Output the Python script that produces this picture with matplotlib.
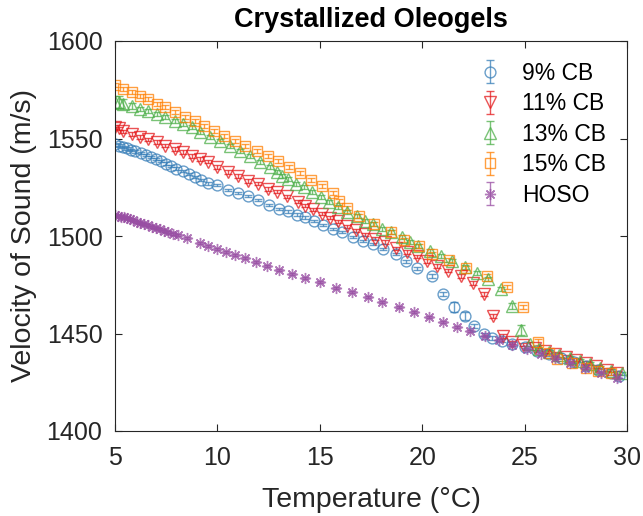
import numpy as np
import matplotlib
matplotlib.use('Agg')
import matplotlib.pyplot as plt

plt.rcParams['font.family'] = ['Liberation Sans', 'DejaVu Sans']

# 9% CB
t_9 = [5.0, 5.2, 5.4, 5.6, 5.8, 6.0, 6.25, 6.5, 6.75, 7.0, 7.25, 7.5, 7.75, 8.0, 8.3, 8.6,
       8.9, 9.2, 9.55, 10.0, 10.5, 11.0, 11.5, 12.0, 12.5, 13.0, 13.45, 13.9, 14.3, 14.7,
       15.15, 15.65, 16.1, 16.6, 17.1, 17.6, 18.1, 18.7, 19.2, 19.75, 20.5, 21.0, 21.55,
       22.1, 22.55, 23.0, 23.4, 23.9, 24.4, 25.0, 25.6, 26.2, 26.8, 27.4, 28.0, 28.6,
       29.2, 29.6]
v_9 = [1547.0, 1546.3, 1545.6, 1544.9, 1544.2, 1543.4, 1542.5, 1541.5, 1540.5, 1539.4,
       1538.3, 1537.1, 1535.9, 1534.6, 1533.2, 1531.7, 1530.2, 1528.7, 1527.0, 1526.0,
       1523.5, 1522.0, 1520.5, 1518.5, 1516.0, 1514.0, 1512.6, 1511.0, 1509.5, 1507.7,
       1505.6, 1503.6, 1502.0, 1499.6, 1497.4, 1495.8, 1493.4, 1490.8, 1487.0, 1483.5,
       1479.5, 1470.3, 1463.6, 1459.0, 1453.8, 1449.7, 1447.7, 1446.2, 1444.6, 1443.0,
       1441.0, 1439.3, 1437.5, 1435.5, 1433.5, 1431.5, 1429.5, 1428.0]
e_9 = [0.8, 0.7, 0.7, 0.6, 0.6, 0.6, 0.6, 0.6, 0.6, 0.6, 0.6, 0.6, 0.6, 0.6, 0.6, 0.6,
       0.6, 0.6, 0.6, 0.6, 0.6, 0.6, 0.6, 0.6, 0.6, 0.6, 0.6, 0.6, 0.6, 0.6,
       0.6, 0.6, 0.6, 0.6, 0.6, 0.6, 0.6, 0.6, 0.8, 0.8, 1.0, 1.0, 2.5,
       2.0, 1.0, 0.8, 0.8, 0.8, 0.8, 0.6, 0.6, 0.6, 0.6, 0.6, 0.6, 0.6,
       0.6, 0.6]

# 11% CB
t_11 = [5.0, 5.2, 5.4, 5.85, 6.2, 6.6, 7.05, 7.45, 7.95, 8.3, 8.75, 9.15, 9.55, 10.0, 10.5,
        11.0, 11.5, 12.0, 12.45, 12.9, 13.4, 13.95, 14.3, 14.65, 15.1, 15.5, 15.9, 16.35,
        16.75, 17.2, 17.7, 18.2, 18.7, 19.25, 19.75, 20.25, 20.7, 21.25, 21.9, 22.5, 23.0,
        23.45, 23.95, 24.4, 24.9, 25.5, 26.0, 26.5, 27.0, 27.5, 28.0, 28.5, 29.0, 29.5]
v_11 = [1556.0, 1555.2, 1553.8, 1552.3, 1550.8, 1549.7, 1548.2, 1546.2, 1544.6, 1543.1,
        1541.0, 1539.5, 1538.0, 1535.4, 1532.8, 1530.8, 1528.2, 1526.7, 1524.1, 1522.6,
        1520.3, 1517.6, 1515.6, 1513.6, 1511.4, 1509.4, 1507.6, 1505.0, 1503.0, 1500.8,
        1498.5, 1496.9, 1493.6, 1491.8, 1489.7, 1487.2, 1484.6, 1482.1, 1479.5, 1475.9,
        1470.3, 1459.0, 1448.7, 1445.6, 1444.3, 1442.5, 1441.0, 1439.5, 1438.0, 1436.5,
        1435.0, 1433.3, 1431.5, 1430.0]
e_11 = [1.0, 0.9, 0.8, 0.8, 0.8, 0.8, 0.8, 0.8, 0.8, 0.8, 0.8, 0.8, 0.8, 0.8, 0.8,
        0.8, 0.8, 0.8, 0.8, 0.8, 0.8, 0.8, 0.8, 0.8, 0.8, 0.8, 0.8, 0.8,
        0.8, 0.8, 0.8, 0.8, 0.8, 0.8, 0.8, 0.8, 0.8, 0.8, 0.8, 0.8, 1.0,
        1.2, 1.0, 0.8, 0.8, 0.8, 0.8, 0.8, 0.8, 0.8, 0.8, 0.8, 0.8, 0.8]

# 13% CB
t_13 = [5.0, 5.2, 5.4, 5.85, 6.2, 6.6, 7.05, 7.45, 7.95, 8.3, 8.75, 9.15, 9.65, 10.15,
        10.6, 11.1, 11.6, 12.1, 12.55, 12.9, 13.15, 13.45, 13.85, 14.25, 14.6, 15.05, 15.45,
        15.9, 16.35, 16.8, 17.2, 17.6, 18.05, 18.5, 19.0, 19.4, 19.8, 20.4, 20.9, 21.45,
        22.1, 22.7, 23.2, 23.85, 24.4, 24.8, 25.25, 25.7, 26.2, 26.7, 27.2, 27.7, 28.2,
        28.7, 29.2, 29.75]
v_13 = [1568.5, 1568.8, 1567.8, 1566.7, 1565.1, 1564.1, 1562.6, 1561.0, 1559.0, 1557.4,
        1555.9, 1553.3, 1550.8, 1548.7, 1546.2, 1543.6, 1541.0, 1538.0, 1535.4, 1533.0,
        1530.8, 1529.2, 1526.7, 1525.1, 1522.6, 1520.0, 1517.4, 1514.9, 1512.3, 1510.3,
        1507.7, 1506.0, 1503.6, 1502.1, 1499.5, 1497.0, 1494.9, 1492.3, 1489.7, 1487.2,
        1484.1, 1481.0, 1477.9, 1472.8, 1464.1, 1451.8, 1444.6, 1442.0, 1440.5, 1439.0,
        1437.5, 1436.0, 1434.5, 1432.5, 1431.0, 1429.5]
e_13 = [3.5, 3.0, 2.5, 1.5, 1.2, 1.0, 1.0, 1.0, 1.0, 1.0, 1.0, 1.0, 1.0, 1.0,
        1.0, 1.0, 1.0, 1.0, 1.0, 1.0, 1.0, 1.0, 1.0, 1.0, 1.0, 1.0, 1.0,
        1.0, 1.0, 1.0, 1.0, 1.0, 1.0, 1.0, 1.0, 1.0, 1.0, 1.0, 1.0, 1.0,
        1.0, 1.0, 1.0, 1.0, 1.5, 2.5, 1.0, 0.8, 0.8, 0.8, 0.8, 0.8, 0.8,
        0.8, 0.8, 0.8]

# 15% CB
t_15 = [5.0, 5.4, 5.85, 6.2, 6.6, 7.05, 7.45, 7.95, 8.4, 8.9, 9.35, 9.85, 10.3, 10.85,
        11.35, 11.95, 12.45, 12.95, 13.5, 14.05, 14.55, 15.1, 15.65, 15.95, 16.35, 16.9,
        17.65, 18.5, 19.1, 19.85, 20.5, 21.3, 22.15, 23.15, 24.15, 24.9, 25.65, 26.2,
        26.6, 27.3, 28.0, 28.6, 29.2]
v_15 = [1577.5, 1575.4, 1573.8, 1571.8, 1570.3, 1567.7, 1566.2, 1563.6, 1561.0, 1559.0,
        1556.4, 1553.8, 1551.3, 1548.7, 1546.2, 1543.6, 1541.0, 1538.5, 1535.4, 1532.3,
        1528.7, 1525.6, 1522.1, 1517.9, 1514.4, 1510.3, 1506.2, 1502.1, 1497.9, 1494.9,
        1490.8, 1487.7, 1483.6, 1479.5, 1473.8, 1463.6, 1445.6, 1440.0, 1437.0, 1435.0,
        1432.5, 1431.0, 1429.5]
e_15 = [1.0, 0.9, 0.9, 0.9, 0.9, 0.9, 0.9, 0.9, 0.9, 0.9, 0.9, 0.9, 0.9, 0.9,
        0.9, 0.9, 0.9, 0.9, 0.9, 0.9, 0.9, 0.9, 0.9, 0.9, 0.9, 0.9,
        0.9, 0.9, 0.9, 0.9, 0.9, 0.9, 0.9, 0.9, 1.0, 1.0, 1.5, 0.9,
        0.9, 0.9, 0.9, 0.9, 0.9]

# HOSO
t_hoso = [5.0, 5.15, 5.3, 5.45, 5.6, 5.75, 5.9, 6.05, 6.2, 6.4, 6.6, 6.8, 7.0, 7.2, 7.4,
          7.6, 7.85, 8.1, 8.5, 9.15, 9.55, 10.0, 10.4, 10.85, 11.35, 11.9, 12.4, 13.0,
          13.65, 14.3, 15.0, 15.8, 16.55, 17.35, 18.05, 18.85, 19.6, 20.35, 21.0, 21.7,
          22.35, 23.05, 23.75, 24.4, 25.1, 25.8, 26.5, 27.2, 27.95, 28.75, 29.5]
v_hoso = [1511.0, 1510.5, 1510.0, 1509.5, 1509.0, 1508.5, 1508.0, 1507.4, 1506.9, 1506.2,
          1505.5, 1504.8, 1504.1, 1503.4, 1502.7, 1502.0, 1501.2, 1500.3, 1499.0, 1496.4,
          1494.9, 1493.3, 1491.8, 1490.3, 1488.7, 1486.7, 1484.6, 1482.6, 1480.5, 1478.5,
          1476.4, 1473.3, 1471.3, 1468.7, 1466.2, 1463.6, 1461.0, 1458.5, 1455.9, 1453.3,
          1451.3, 1448.7, 1446.7, 1444.1, 1441.8, 1439.6, 1437.5, 1435.0, 1432.5, 1430.0,
          1427.0]
e_hoso = [0.5] * len(t_hoso)

series = [
    (t_9, v_9, e_9, '9% CB', '#377eb8', 'o', 7.8),
    (t_11, v_11, e_11, '11% CB', '#e41a1c', 'v', 8.3),
    (t_13, v_13, e_13, '13% CB', '#4daf4a', '^', 8.3),
    (t_15, v_15, e_15, '15% CB', '#ff7f00', 's', 6.8),
    (t_hoso, v_hoso, e_hoso, 'HOSO', '#984ea3', (8, 2, 0), 8),
]

fig = plt.figure(figsize=(6.43, 5.16), dpi=100)
ax = fig.add_axes([115 / 643, 1 - 431 / 516, 512 / 643, 390 / 516])

for t, v, e, label, color, marker, ms in series:
    ax.errorbar(t, v, yerr=e, linestyle='none', marker=marker, ms=ms, mfc='none',
                mec=color, mew=1.0, ecolor=color, elinewidth=1.0, capsize=3,
                capthick=1.0, alpha=0.75, label=label)

ax.set_xlim(5, 30)
ax.set_ylim(1400, 1600)
ax.set_xticks([5, 10, 15, 20, 25, 30])
ax.set_yticks([1400, 1450, 1500, 1550, 1600])
ax.tick_params(direction='in', top=True, right=True, labelsize=18, length=5,
               width=0.8, colors='#262626')
ax.tick_params(axis='x', pad=11)
ax.tick_params(axis='y', pad=9)
for sp in ax.spines.values():
    sp.set_color('#262626')
    sp.set_linewidth(0.8)

ax.set_xlabel('Temperature (°C)', fontsize=20.5, color='#262626', labelpad=12)
ax.set_ylabel('Velocity of Sound (m/s)', fontsize=20.5, color='#262626', labelpad=7)
ax.set_title('Crystallized Oleogels', fontsize=19.5, fontweight='bold', pad=10)

ax.legend(loc='upper right', bbox_to_anchor=(1.0, 1.0), frameon=False,
          fontsize=16.5, handlelength=1.0, handletextpad=0.9, labelspacing=0.33)

fig.savefig('out.png', dpi=100)
